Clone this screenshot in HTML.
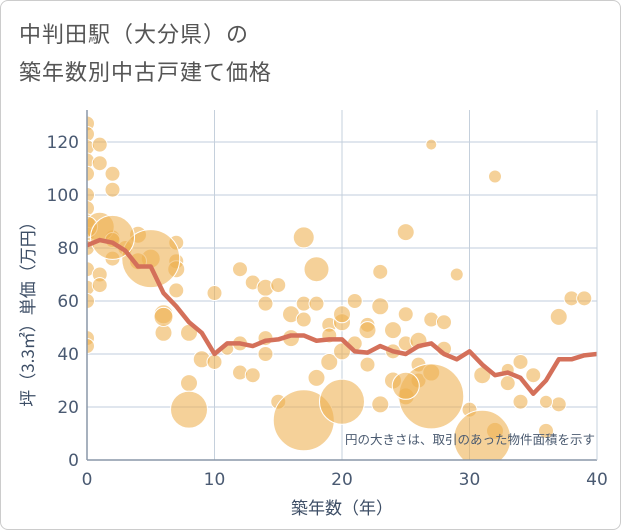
<!DOCTYPE html>
<html><head><meta charset="utf-8"><style>
body{margin:0;background:#fff;font-family:"Liberation Sans","Noto Sans CJK JP",sans-serif}
#wrap{position:relative;width:619px;height:528px;border:1px solid #ccc;border-radius:8px;overflow:hidden}
.title{position:absolute;left:18px;color:#555;font-size:22px;font-family:"Noto Sans CJK JP",sans-serif;letter-spacing:1px}
</style></head><body>
<div id="wrap">
<div class="title" style="top:16px">中判田駅（大分県）の</div>
<div class="title" style="top:54px">築年数別中古戸建て価格</div>
<svg id="chart" width="621" height="530" style="position:absolute;left:-1px;top:-1px"></svg>
</div>
<script>
const years=[0,1,2,3,4,5,6,7,8,9,10,11,12,13,14,15,16,17,18,19,20,21,22,23,24,25,26,27,28,29,30,31,32,33,34,35,36,37,38,39,40];
const avgPrice=[81,83,82,79,73,73,63,58,52,48,40,44,44,43,45,45.5,47,47,45,45.5,45.5,41,40.5,43,41,40,43,44,40,38,41,36,32,33,31,25,30,38,38,39.5,40];
const bubAge=[0,0,0,0,0,0,0,0,0,0,0,0,0,0,0,1,1,1,1,2,2,2,2,1,0,5,2,3,4,4,6,6,7,7,6,7,7,8,8,9,10,10,11,12,12,12,13,13,14,14,14,14,15,15,16,16,17,17,17,18,18,18,19,19,19,20,20,20,21,21,22,22,22,23,23,23,24,24,24,25,25,25,25,26,26,26,27,27,27,28,28,29,30,31,32,32,33,33,34,34,35,36,37,37,38,39,36,17,27,31,20,8,25];
const bubPrice=[127,123,118,113,108,100,95,90,85,80,72,65,60,46,43,119,112,70,66,108,102,84,76,88,88,76,83,80,85,75,55,48,82,75,54,72,64,48,29,38,63,37,42,72,44,33,67,32,65,59,46,40,66,22,46,55,84,59,53,72,59,31,51,47,37,52,41,55,60,44,51,49,36,71,58,21,49,41,30,86,55,44,24,45,36,30,119,53,33,52,42,70,19,32,107,11,34,29,37,22,32,11,54,21,61,61,22,15,24,8,22,19,28];
const bubR=[7,7,7,7,7,7,7,7,7,7,7,7,7,7,7,7,7,7,7,7,7,7,7,14,10,9,7,7,8,8,9,8,7,7,9,8,7,8,8,8,7,7,6,7,7,7,7,7,8,7,7,7,7,7,8,8,10,7,7,12,7,8,7,7,8,8,8,8,7,7,7,8,7,7,8,8,8,7,8,8,7,7,8,8,7,7,5,7,8,7,7,6,7,8,6,8,6,7,7,7,7,7,8,7,7,7,6,30,32,28,22,18,13];
const bigAge=[5,2];const bigPrice=[76,84];const bigR=[29,22];
const xTicks=[0,10,20,30,40];const yTicks=[0,20,40,60,80,100,120];
const X0=87,X1=597,Y0=460,TOP=110;
const sx=v=>X0+(v/40)*(X1-X0);
const sy=v=>Y0-v*2.65;
const svg=document.getElementById('chart');const NS='http://www.w3.org/2000/svg';
function mk(t,a,p){const e=document.createElementNS(NS,t);for(const k in a)e.setAttribute(k,a[k]);(p||svg).appendChild(e);return e;}
const defs=mk('defs',{});const cp=mk('clipPath',{id:'cp'},defs);mk('rect',{x:X0,y:TOP,width:X1-X0,height:Y0-TOP},cp);
yTicks.forEach(t=>{if(t===0)return;const l=mk('line',{x1:X0,x2:X1,y1:sy(t),y2:sy(t),stroke:'#d5dee8','stroke-width':1.5});

});
xTicks.forEach(t=>{if(t===0)return;const l=mk('line',{x1:sx(t),x2:sx(t),y1:TOP,y2:Y0,stroke:'#c5d0dc','stroke-width':1});

});
const g=mk('g',{'clip-path':'url(#cp)'});
bubAge.forEach((a,i)=>{const c=mk('circle',{cx:sx(a),cy:sy(bubPrice[i]),r:bubR[i]+0.5,fill:'rgba(238,176,80,0.58)',stroke:'#fff','stroke-width':1},g);

});
bigAge.forEach((a,i)=>{const c=mk('circle',{cx:sx(a),cy:sy(bigPrice[i]),r:bigR[i],fill:'rgba(238,176,80,0.58)',stroke:'#fff','stroke-width':1},g);

});
const ln=mk('polyline',{points:years.map((y,i)=>sx(y)+','+sy(avgPrice[i])).join(' '),fill:'none',stroke:'#d4705a','stroke-width':4.5,'stroke-linejoin':'round'},g);


mk('line',{x1:X0,x2:X0,y1:TOP,y2:Y0,stroke:'#8a97a8','stroke-width':1.5});
mk('line',{x1:X0,x2:X1,y1:Y0,y2:Y0,stroke:'#8a97a8','stroke-width':1.5});
mk('line',{x1:X1,x2:X1,y1:TOP,y2:Y0,stroke:'#c5d0dc','stroke-width':1});
yTicks.forEach(t=>{const e=mk('text',{x:X0-8,y:sy(t)+6,'text-anchor':'end','font-size':17,fill:'#4a5a72','font-family':'DejaVu Sans,sans-serif'});e.textContent=t;

});
xTicks.forEach(t=>{const e=mk('text',{x:sx(t),y:Y0+25,'text-anchor':'middle','font-size':17,fill:'#4a5a72','font-family':'DejaVu Sans,sans-serif'});e.textContent=t;

});
const xt=mk('text',{x:342,y:514,'text-anchor':'middle','font-size':17,fill:'#3d4e66','font-family':'Noto Sans CJK JP,sans-serif'});xt.textContent='築年数（年）';


const yt=mk('text',{x:0,y:0,'text-anchor':'middle','font-size':17,fill:'#3d4e66','font-family':'Noto Sans CJK JP,sans-serif',transform:'translate(34,310) rotate(-90)'});yt.textContent='坪（3.3㎡）単価（万円）';


const nt=mk('text',{x:595,y:444,'text-anchor':'end','font-size':12.5,fill:'#4a5a70','font-family':'Noto Sans CJK JP,sans-serif'});nt.textContent='円の大きさは、取引のあった物件面積を示す';


</script>
</body></html>
